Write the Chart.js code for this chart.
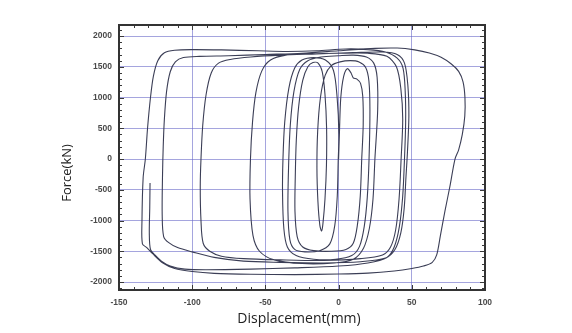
<!DOCTYPE html>
<html>
<head>
<meta charset="utf-8">
<script src="https://cdn.jsdelivr.net/npm/chart.js@4.4.1/dist/chart.umd.min.js"></script>
<style>
  html, body { margin: 0; padding: 0; background: #fff; }
  #wrap { width: 572px; height: 333px; }
</style>
</head>
<body>
<div id="wrap"><canvas id="hystChart" width="572" height="333"></canvas></div>
<script>
// Hysteresis record: displacement (mm) and force (kN), in test order
const dispMM = [
    0, 0.6, 1.5, 3.5, 6, 8.5, 10, 12.5, 15, 16.5, 16.8, 15.8,
    14.8, 12.8, 10, 5, -5, -17, -24.5, -28.3, -29.8, -29.6, -28.9, -27.3, -24.5, -21, -17.5, -14, -11.2, -9.3, -8.2,
    -8.3, -9.3, -10.7, -11.6, -12.8, -14.1, -14.8, -14.3, -12.4, -9.2, -5, 1, 8, 14, 18.5, 20.7, 21.4, 20.8,
    19.6, 17.5, 14.3, 9, -2, -17, -29, -35, -37.4, -38.3, -38, -36.8, -34, -30, -25, -17, -9, -3.5, -1, 0.2, -0.3,
    -0.9, -2.6, -6, -13, -23, -30, -33.3, -34.6, -34.2, -33, -30.5, -26.5, -21, -12, 0, 10, 19, 24, 26.3, 26.7, 24.8,
    23.5, 21, 17, 10, -3, -25, -44, -54, -58.5, -60.5, -60.2, -58.8, -56.5, -52.5, -46.5, -36, -20, 0, 20, 33, 39.5, 42.5, 43.8, 42.7,
    41.3, 39, 35.5, 30, 15, -10, -40, -65, -80, -88, -92.5, -94, -94.5, -94, -92.8, -90.5, -87, -82, -74, -60, -40, -15, 10, 30, 40, 45, 47.3, 48, 47, 46,
    44.8, 42.5, 38.5, 32, 15, -10, -40, -65, -85, -100, -110, -116, -119.5, -120.5, -120.3, -119.8, -119, -117.5, -115, -111.5, -106, -95, -75, -50, -25, 0, 25, 40, 52, 62, 70, 77, 82, 85, 86.3, 86.2, 84.5, 82, 79.5,
    76, 72.6, 69.5, 67, 64, 58, 50, 38, 20, 0, -30, -60, -85, -100, -112, -120, -127, -131, -134, -134.3, -133.5, -132, -130.5, -128.5, -126.5, -123.5, -119, -112, -100, -80, -55, -35, -15, 5, 20, 32, 40, 44, 45.5, 45.8, 45,
    43.8, 41.5, 38, 33, 20, 0, -30, -60, -90, -105, -115, -121, -125.5, -128.5, -129.3, -129, -128.8
];
const forceKN = [
    0, 450, 1000, 1350, 1470, 1400, 1320, 1300, 1230, 1020, 550, 0,
    -600, -1080, -1370, -1470, -1500, -1490, -1430, -1260, -850, -300, 300, 850, 1280, 1500, 1570, 1560, 1420, 1050, 500,
    -100, -650, -1050, -1170, -1080, -700, -150, 450, 1000, 1360, 1520, 1580, 1600, 1580, 1490, 1270, 800, 0,
    -620, -1100, -1420, -1570, -1630, -1630, -1570, -1430, -1130, -550, 0, 600, 1150, 1480, 1610, 1650, 1610, 1440, 1000, 400, -50,
    -600, -1080, -1380, -1490, -1510, -1470, -1310, -850, -150, 550, 1100, 1460, 1600, 1660, 1680, 1690, 1660, 1560, 1330, 800, 0,
    -650, -1130, -1450, -1630, -1690, -1700, -1640, -1500, -1240, -650, 0, 600, 1080, 1430, 1610, 1690, 1710, 1720, 1720, 1670, 1500, 1150, 650, 0,
    -650, -1150, -1430, -1560, -1620, -1650, -1640, -1620, -1580, -1500, -1370, -1000, -450, 0, 550, 1050, 1400, 1560, 1620, 1660, 1690, 1710, 1730, 1740, 1700, 1560, 1200, 700, 100, -300,
    -800, -1200, -1470, -1610, -1670, -1690, -1680, -1660, -1600, -1510, -1440, -1360, -1260, -900, -300, 200, 650, 1100, 1420, 1580, 1650, 1670, 1680, 1700, 1720, 1760, 1800, 1805, 1775, 1725, 1655, 1545, 1425, 1255, 1000, 700, 400, 150, 0,
    -450, -850, -1250, -1560, -1680, -1740, -1780, -1820, -1855, -1870, -1880, -1875, -1860, -1830, -1780, -1690, -1540, -1440, -1380, -1000, -300, 0, 500, 1000, 1350, 1600, 1730, 1770, 1780, 1775, 1760, 1750, 1760, 1790, 1780, 1740, 1640, 1480, 1100, 600, 0,
    -600, -1100, -1430, -1600, -1690, -1740, -1770, -1790, -1800, -1790, -1740, -1660, -1560, -1470, -1200, -800, -390
];

const xTicks = [-150, -100, -50, 0, 50, 100];
const yTicks = [-2000, -1500, -1000, -500, 0, 500, 1000, 1500, 2000];

document.addEventListener('DOMContentLoaded', function() {
    const points = dispMM.map(function(d, i) { return { x: d, y: forceKN[i] }; });

    // Frame, inward minor ticks and the two axis titles
    const framePlugin = {
        id: 'frame',
        afterDraw: function(chart) {
            const ctx = chart.ctx;
            const area = chart.chartArea;
            const xs = chart.scales.x;
            const ys = chart.scales.y;
            ctx.save();
            ctx.strokeStyle = '#3a3a3a';
            ctx.lineWidth = 1;
            ctx.beginPath();
            for (let v = -150; v <= 100; v += 10) {
                const px = Math.round(xs.getPixelForValue(v)) + 0.5;
                const len = v % 50 === 0 ? 5 : 3;
                ctx.moveTo(px, area.bottom); ctx.lineTo(px, area.bottom - len);
                ctx.moveTo(px, area.top); ctx.lineTo(px, area.top + len);
            }
            for (let v = -2100; v <= 2100; v += 100) {
                const py = Math.round(ys.getPixelForValue(v)) + 0.5;
                const len = v % 500 === 0 ? 5 : 3;
                ctx.moveTo(area.left, py); ctx.lineTo(area.left + len, py);
                ctx.moveTo(area.right, py); ctx.lineTo(area.right - len, py);
            }
            ctx.stroke();

            ctx.lineWidth = 2;
            ctx.strokeStyle = '#333';
            ctx.strokeRect(area.left, area.top, area.right - area.left, area.bottom - area.top);

            ctx.fillStyle = '#222';
            ctx.font = '14px "Open Sans"';
            ctx.textAlign = 'center';
            ctx.textBaseline = 'middle';
            ctx.fillText('Displacement(mm)', 299, 319);

            ctx.translate(67, 173);
            ctx.rotate(-Math.PI / 2);
            ctx.font = '13px "Open Sans"';
            ctx.fillText('Force(kN)', 0, 0);
            ctx.restore();
        }
    };

    const tickFont = { family: 'Liberation Sans', size: 8.5, weight: 'bold' };
    const gridColor = 'rgba(105,105,200,0.6)';
    const plainLabel = function(value) { return String(value); };

    new Chart(document.getElementById('hystChart'), {
        type: 'scatter',
        data: {
            datasets: [{
                data: points,
                showLine: true,
                borderColor: '#3b3e56',
                borderWidth: 1.1,
                pointRadius: 0,
                tension: 0.3,
                fill: false
            }]
        },
        options: {
            responsive: false,
            animation: false,
            layout: { padding: { top: 25, right: 87, left: 0, bottom: 0 } },
            plugins: {
                legend: { display: false },
                tooltip: { enabled: false }
            },
            scales: {
                x: {
                    type: 'linear',
                    min: -150,
                    max: 100,
                    afterBuildTicks: function(scale) {
                        scale.ticks = xTicks.map(function(v) { return { value: v }; });
                    },
                    afterFit: function(scale) { scale.height = 43; },
                    grid: { color: gridColor, lineWidth: 1, drawTicks: false },
                    border: { display: false },
                    ticks: { color: '#4a4a4a', font: tickFont, padding: 8, maxRotation: 0, callback: plainLabel }
                },
                y: {
                    type: 'linear',
                    min: -2130,
                    max: 2180,
                    afterBuildTicks: function(scale) {
                        scale.ticks = yTicks.map(function(v) { return { value: v }; });
                    },
                    afterFit: function(scale) { scale.width = 119; },
                    grid: { color: gridColor, lineWidth: 1, drawTicks: false },
                    border: { display: false },
                    ticks: { color: '#4a4a4a', font: tickFont, padding: 7, callback: plainLabel }
                }
            }
        },
        plugins: [framePlugin]
    });
});
</script>
</body>
</html>
